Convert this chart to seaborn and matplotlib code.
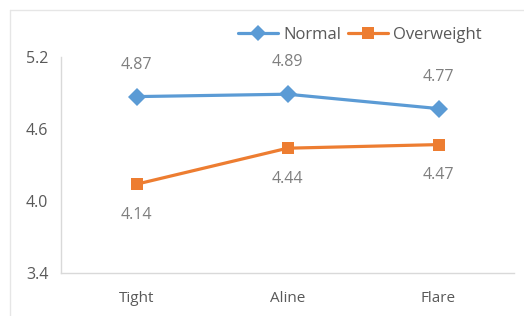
import matplotlib
matplotlib.use("Agg")
import matplotlib.pyplot as plt
import pandas as pd
import seaborn as sns
from matplotlib.lines import Line2D

categories = ["Tight", "Aline", "Flare"]
normal = [4.87, 4.89, 4.77]
overweight = [4.14, 4.44, 4.47]
y_ticks = [3.4, 4.0, 4.6, 5.2]

BLUE = "#5B9BD5"
ORANGE = "#ED7D31"
TEXT = "#595959"
LABEL = "#7F7F7F"

df = pd.DataFrame({
    "style": categories * 2,
    "score": normal + overweight,
    "group": ["Normal"] * 3 + ["Overweight"] * 3,
})

sns.set_style("white")
plt.rcParams["font.family"] = ["Open Sans", "DejaVu Sans"]

fig = plt.figure(figsize=(5.24, 3.16), dpi=100)
ax = fig.add_axes([61 / 524, (316 - 273) / 316, (514 - 61) / 524, (273 - 57) / 316])

sns.lineplot(data=df, x="style", y="score", hue="group", style="group",
             palette={"Normal": BLUE, "Overweight": ORANGE},
             markers={"Normal": "D", "Overweight": "s"}, dashes=False,
             linewidth=2.3, markersize=9, markeredgewidth=0, ax=ax, legend=False)

# data labels: Normal above, Overweight below
for i, v in enumerate(normal):
    ax.annotate(f"{v:.2f}", (i, v), xytext=(0, 23), textcoords="offset points",
                ha="center", va="center", color=LABEL, fontsize=11.5)
for i, v in enumerate(overweight):
    ax.annotate(f"{v:.2f}", (i, v), xytext=(0, -22), textcoords="offset points",
                ha="center", va="center", color=LABEL, fontsize=11.5)

ax.set_xlim(-0.5, 2.5)
ax.set_ylim(3.4, 5.2)
ax.set_yticks(y_ticks)
ax.set_yticklabels([f"{t:.1f}" for t in y_ticks], color=TEXT, fontsize=11.5)
ax.set_xticks(range(len(categories)))
ax.set_xticklabels(categories, color=TEXT, fontsize=11)
ax.tick_params(axis="y", length=0, pad=9)
ax.tick_params(axis="x", length=0, pad=13)
ax.set_xlabel("")
ax.set_ylabel("")
for side in ["top", "right"]:
    ax.spines[side].set_visible(False)
for side in ["left", "bottom"]:
    ax.spines[side].set_color("#D9D9D9")
    ax.spines[side].set_linewidth(1)

handles = [
    Line2D([], [], color=BLUE, marker="D", markersize=8, lw=2.3, markeredgewidth=0),
    Line2D([], [], color=ORANGE, marker="s", markersize=8, lw=2.3, markeredgewidth=0),
]
fig.legend(handles, ["Normal", "Overweight"], loc="center", bbox_to_anchor=(360 / 524, 1 - 35 / 316),
           ncol=2, frameon=False, fontsize=12, handlelength=2.4, handletextpad=0.3,
           columnspacing=0.4, labelcolor=TEXT)

# outer chart frame (top and left edges)
fig.add_artist(Line2D([10 / 524, 1], [1 - 10 / 316, 1 - 10 / 316], color="#E6E6E6", lw=1))
fig.add_artist(Line2D([10 / 524, 10 / 524], [0, 1 - 10 / 316], color="#E6E6E6", lw=1))

fig.savefig("out.png", dpi=100)
